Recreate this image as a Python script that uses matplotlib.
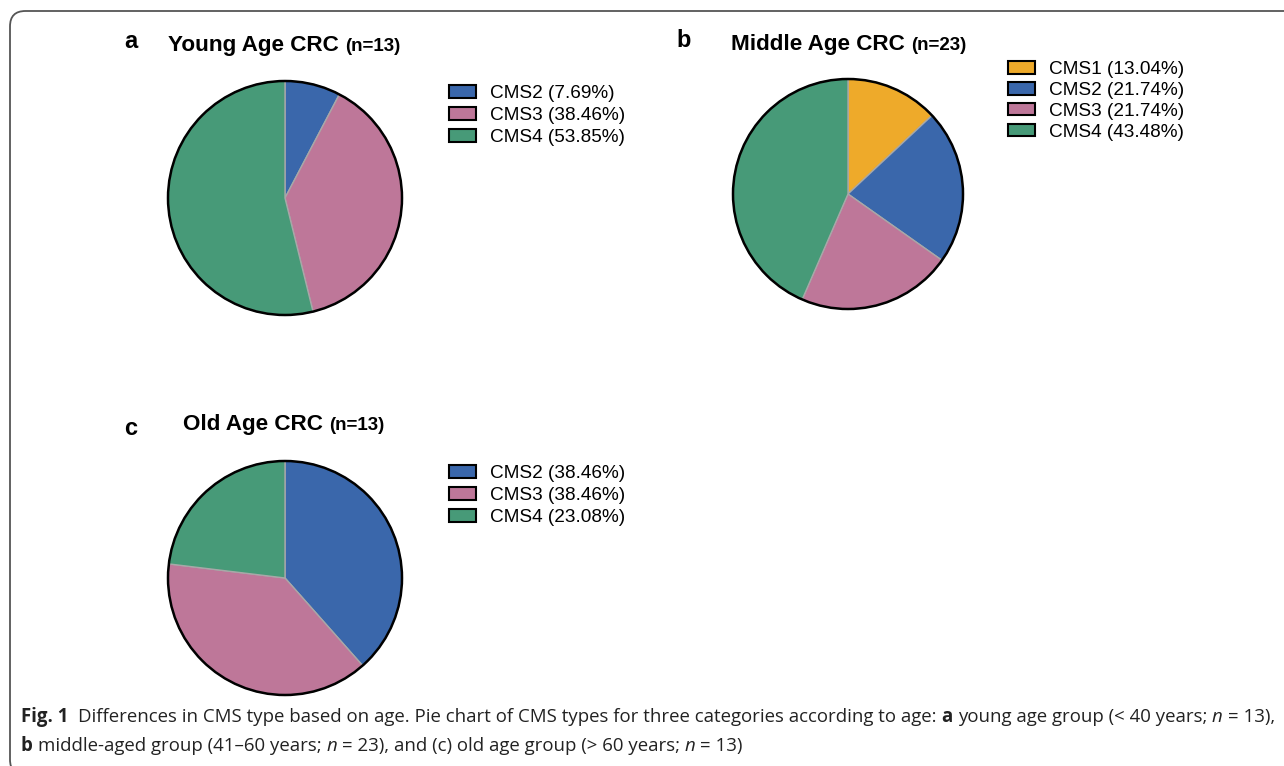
import matplotlib
matplotlib.use('Agg')
from matplotlib import pyplot as plt
from matplotlib.patches import Patch, Circle, FancyBboxPatch

# data
young_labels = ['CMS2', 'CMS3', 'CMS4']
young_pct = [7.69, 38.46, 53.85]
middle_labels = ['CMS1', 'CMS2', 'CMS3', 'CMS4']
middle_pct = [13.04, 21.74, 21.74, 43.48]
old_labels = ['CMS2', 'CMS3', 'CMS4']
old_pct = [38.46, 38.46, 23.08]

cms_colors = {'CMS1': '#EEAA2A', 'CMS2': '#3A67AB', 'CMS3': '#BE7799', 'CMS4': '#479A78'}

W, H = 1284, 766
plt.rcParams['font.family'] = ['Liberation Sans', 'DejaVu Sans']

fig = plt.figure(figsize=(W / 100, H / 100), dpi=100)
fig.patch.set_facecolor('white')
r = fig.canvas.get_renderer()


def fx(x):
  return x / W


def fy(y):
  return 1 - y / H


# border box
box = FancyBboxPatch((fx(10), fy(775)), fx(1400), 764 / H,
                     boxstyle='round,pad=0,rounding_size=0.012',
                     transform=fig.transFigure, fill=False,
                     edgecolor='#555555', lw=1.3, mutation_aspect=W / H)
fig.patches.append(box)


def pie_panel(cx, cy, rad, labels, pct):
  ax = fig.add_axes([fx(cx - rad), fy(cy + rad), 2 * rad / W, 2 * rad / H])
  ax.pie(pct, colors=[cms_colors[l] for l in labels], startangle=90,
         counterclock=False, radius=1,
         wedgeprops={'edgecolor': '#a8a8a8', 'linewidth': 1})
  ax.add_patch(Circle((0, 0), 1, fill=False, edgecolor='black', lw=1.8, clip_on=False))
  ax.set_xlim(-1, 1)
  ax.set_ylim(-1, 1)
  ax.set_aspect('auto')
  ax.axis('off')
  return ax


def legend(x, ytop, labels, pct, spacing):
  handles = [Patch(facecolor=cms_colors[l], edgecolor='black', lw=1.5,
                   label='%s (%.2f%%)' % (l, p)) for l, p in zip(labels, pct)]
  fig.legend(handles=handles, loc='upper left', bbox_to_anchor=(fx(x), fy(ytop)),
             frameon=False, fontsize=13.7, borderpad=0, borderaxespad=0,
             handlelength=1.4, handleheight=0.65, handletextpad=0.75,
             labelspacing=spacing)


def title(xl, yl, letter, x, y, main, n):
  fig.text(fx(xl), fy(yl), letter, fontsize=17, fontweight='bold', va='baseline')
  t = fig.text(fx(x), fy(y), main, fontsize=16.2, fontweight='bold', va='baseline')
  bb = t.get_window_extent(r)
  fig.text((bb.x1 + 6) / W, fy(y), n, fontsize=13.5, fontweight='bold', va='baseline')


# a
pie_panel(285, 198, 117, young_labels, young_pct)
legend(449, 85, young_labels, young_pct, 0.26)
title(124, 48, 'a', 168, 51, 'Young Age CRC', '(n=13)')

# b
pie_panel(848, 194, 115, middle_labels, middle_pct)
legend(1008, 61, middle_labels, middle_pct, 0.2)
title(676, 47, 'b', 731, 50, 'Middle Age CRC', '(n=23)')

# c
pie_panel(285, 578, 117, old_labels, old_pct)
legend(449, 465, old_labels, old_pct, 0.26)
title(124, 435, 'c', 183, 430, 'Old Age CRC', '(n=13)')

# caption
cap_family = ['Liberation Sans Narrow', 'Open Sans']
line1 = [('Fig. 1', 'bold', 'normal'),
         ('  Differences in CMS type based on age. Pie chart of CMS types for three categories according to age: ', 'normal', 'normal'),
         ('a', 'bold', 'normal'),
         (' young age group (< 40 years; ', 'normal', 'normal'),
         ('n', 'normal', 'italic'),
         (' = 13),', 'normal', 'normal')]
line2 = [('b', 'bold', 'normal'),
         (' middle-aged group (41\u201360 years; ', 'normal', 'normal'),
         ('n', 'normal', 'italic'),
         (' = 23), and (c) old age group (> 60 years; ', 'normal', 'normal'),
         ('n', 'normal', 'italic'),
         (' = 13)', 'normal', 'normal')]


def width(s, size, w, st):
  t = fig.text(0, 0, s, fontsize=size, fontweight=w, style=st, family=cap_family)
  v = t.get_window_extent(r).width
  t.remove()
  return v


def run(pieces, x, y, size, draw=True):
  sp = width('x x', size, 'normal', 'normal') - width('xx', size, 'normal', 'normal')
  for s, w, st in pieces:
    core = s.strip(' ')
    lead = len(s) - len(s.lstrip(' '))
    trail = len(s) - len(s.rstrip(' '))
    x += lead * sp
    if draw:
      t = fig.text(x / W, fy(y), core, fontsize=size, fontweight=w, style=st,
                   family=cap_family, va='baseline', color='#222222')
      x = t.get_window_extent(r).x1
    else:
      x += width(core, size, w, st)
    x += trail * sp
  return x


size = 12
total = run(line1, 21, 0, size, draw=False) - 21
size = size * 1249 / total
run(line1, 21, 722, size)
run(line2, 21, 751, size)

fig.savefig('out.png', dpi=100)
